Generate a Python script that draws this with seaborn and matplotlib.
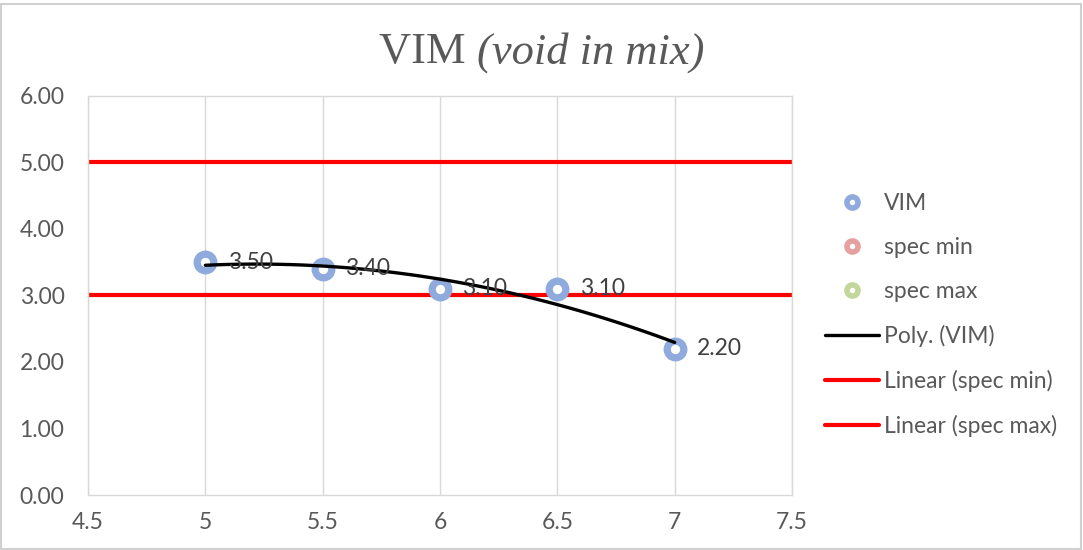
import numpy as np
import pandas as pd
import seaborn as sns
import matplotlib
matplotlib.use("Agg")
import matplotlib.pyplot as plt
from matplotlib.lines import Line2D
from matplotlib.patches import Rectangle

# Asphalt content vs. void in mix
asphalt = [5.0, 5.5, 6.0, 6.5, 7.0]
vim = [3.50, 3.40, 3.10, 3.10, 2.20]
spec_min = 3.0
spec_max = 5.0

x_ticks = [4.5, 5.0, 5.5, 6.0, 6.5, 7.0, 7.5]
x_tick_labels = ["4.5", "5", "5.5", "6", "6.5", "7", "7.5"]
y_ticks = [0, 1, 2, 3, 4, 5, 6]

sns.set_theme(style="white")
plt.rcParams["font.family"] = ["Lato", "DejaVu Sans"]

TEXT = "#595959"
GRID = "#D9D9D9"
BLUE = "#8FAADC"
RED = "#FF0000"

fig = plt.figure(figsize=(10.83, 5.5), dpi=100)
ax = fig.add_axes([0.0813, 0.1, 0.65, 0.7255])

df = pd.DataFrame({"asphalt": asphalt, "vim": vim})

# Second-order polynomial trend of VIM
coef = np.polyfit(asphalt, vim, 2)
xs = np.linspace(min(asphalt), max(asphalt), 100)
trend = pd.DataFrame({"x": xs, "y": np.polyval(coef, xs)})

# Spec limits extended across the axis range
x_span = [x_ticks[0], x_ticks[-1]]
spec_df_min = pd.DataFrame({"x": x_span, "y": [spec_min, spec_min]})
spec_df_max = pd.DataFrame({"x": x_span, "y": [spec_max, spec_max]})

sns.lineplot(data=spec_df_max, x="x", y="y", color=RED, lw=3, ax=ax, zorder=2)
sns.lineplot(data=spec_df_min, x="x", y="y", color=RED, lw=3, ax=ax, zorder=2)

ax.plot(df["asphalt"], df["vim"], linestyle="none", marker="o",
        markersize=12, markerfacecolor="white", markeredgecolor=BLUE,
        markeredgewidth=5.2, zorder=3)

sns.lineplot(data=trend, x="x", y="y", color="black", lw=2.4, ax=ax,
             sort=False, zorder=4)

for xv, yv in zip(asphalt, vim):
    ax.annotate(f"{yv:.2f}", (xv, yv), xytext=(16, 0),
                textcoords="offset points", ha="left", va="center",
                fontsize=16.5, color="#404040", zorder=5)

ax.set_xlim(x_ticks[0], x_ticks[-1])
ax.set_ylim(0, 6)
ax.set_xticks(x_ticks)
ax.set_xticklabels(x_tick_labels)
ax.set_yticks(y_ticks)
ax.set_yticklabels([f"{v:.2f}" for v in y_ticks])
ax.set_xlabel("")
ax.set_ylabel("")
ax.tick_params(axis="both", length=0, labelsize=16.5, labelcolor=TEXT)
ax.tick_params(axis="x", pad=12)
ax.tick_params(axis="y", pad=17)

ax.grid(False)
for xv in x_ticks:
    ax.axvline(xv, color=GRID, lw=1, zorder=0)
for side in ["top", "bottom", "left", "right"]:
    ax.spines[side].set_visible(True)
    ax.spines[side].set_color(GRID)
    ax.spines[side].set_linewidth(1)

# Title: upright "VIM" followed by italic "(void in mix)", centred as a whole
t1 = fig.text(0.5, 0.905, "VIM ", ha="left", va="center", fontsize=32,
              color=TEXT, family="Liberation Serif")
t2 = fig.text(0.5, 0.905, "(void in mix)", ha="left", va="center", fontsize=32,
              color=TEXT, family="Liberation Serif", style="italic")
renderer = fig.canvas.get_renderer()
w1 = t1.get_window_extent(renderer).width / fig.bbox.width
w2 = t2.get_window_extent(renderer).width / fig.bbox.width
start = 0.5 - (w1 + w2) / 2
t1.set_x(start)
t2.set_x(start + w1)

handles = [
    Line2D([], [], linestyle="none", marker="o", markersize=8,
           markerfacecolor="white", markeredgecolor=BLUE, markeredgewidth=4),
    Line2D([], [], linestyle="none", marker="o", markersize=8,
           markerfacecolor="white", markeredgecolor="#E6A0A0", markeredgewidth=4),
    Line2D([], [], linestyle="none", marker="o", markersize=8,
           markerfacecolor="white", markeredgecolor="#C3D69B", markeredgewidth=4),
    Line2D([], [], color="black", lw=2.4),
    Line2D([], [], color=RED, lw=3),
    Line2D([], [], color=RED, lw=3),
]
labels = ["VIM", "spec min", "spec max", "Poly. (VIM)",
          "Linear (spec min)", "Linear (spec max)"]
leg = fig.legend(handles, labels, loc="upper left",
                 bbox_to_anchor=(0.7513, 0.670), frameon=False,
                 fontsize=16.5, labelcolor=TEXT, handlelength=2.35,
                 handletextpad=0.2, labelspacing=1.0, borderpad=0)

fig.patches.append(Rectangle((0.001, 0.002), 0.997, 0.99, transform=fig.transFigure,
                             fill=False, edgecolor="#D0D0D0", lw=1.5))

fig.savefig("out.png", dpi=100, facecolor="white")
